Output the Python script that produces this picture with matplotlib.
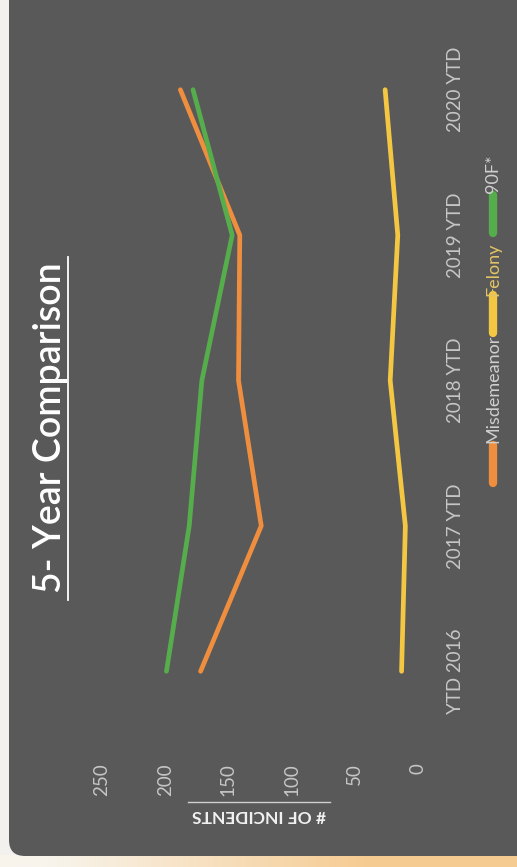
import matplotlib
matplotlib.use("Agg")
import matplotlib.pyplot as plt
from matplotlib.patches import FancyBboxPatch
import numpy as np

plt.rcParams['font.family'] = ['Lato', 'DejaVu Sans']

# incidents per year-to-date period
categories = ['YTD 2016', '2017 YTD', '2018 YTD', '2019 YTD', '2020 YTD']
misdemeanor = [172, 124, 142, 141, 188]
felony = [13, 10, 22, 16, 26]
f90 = [199, 181, 171, 147, 178]
value_ticks = [0, 50, 100, 150, 200, 250]

series = [
    ('Misdemeanor', misdemeanor, '#ef8e3e', '#cfcfcf'),
    ('Felony', felony, '#f4c743', '#e3c466'),
    ('90F*', f90, '#55ad4c', '#cfcfcf'),
]

W, H = 517, 867
fig = plt.figure(figsize=(W / 100, H / 100), dpi=100, facecolor='#f3f1ed')

# backdrop axes in pixel units: slide panel, strip at the bottom, title, legend
bg = fig.add_axes([0, 0, 1, 1])
bg.set_xlim(0, W)
bg.set_ylim(H, 0)
bg.axis('off')

grad = np.linspace(0, 1, 256)
c0 = np.array([248, 244, 236]) / 255
c1 = np.array([246, 203, 145]) / 255
strip = c0[None, :] + (c1 - c0)[None, :] * np.clip(grad * 1.6 - 0.15, 0, 1)[:, None]
bg.imshow(strip[None, :, :], extent=(0, W, H, 855), aspect='auto', zorder=0)

panel = FancyBboxPatch((9, -30), W + 30, 886, boxstyle='round,pad=0,rounding_size=16',
                       facecolor='#5a5959', edgecolor='none', zorder=1)
bg.add_patch(panel)

bg.text(51, 428, '5- Year Comparison', rotation=90, ha='center', va='center',
        color='white', fontsize=27, fontweight='semibold', zorder=3)
bg.plot([68, 68], [257, 600], color='white', lw=1.3, zorder=3)

bg.text(259, 815, '# OF INCIDENTS', rotation=180, ha='center', va='center',
        color='#f2f2f2', fontsize=12.5, fontweight='bold', zorder=3)
bg.plot([188, 330], [802, 802], color='#d0d0d0', lw=1, zorder=3)

# legend laid out along the right edge
legend_pos = [(483, 443), (333, 296), (233, 193)]
for (name, _, color, tcolor), (y0, y1) in zip(series, legend_pos):
    bg.plot([493, 493], [y0, y0 - 38], color=color, lw=6, solid_capstyle='round', zorder=3)
    bg.text(493, y1, name, rotation=90, ha='center', va='bottom',
            color=tcolor, fontsize=13, zorder=3)

# main chart, value axis runs right-to-left, periods bottom-to-top
ax = fig.add_axes([102 / W, 1 - 744 / H, 316 / W, 727 / H])
ax.set_facecolor('none')
y = np.arange(len(categories))
for name, vals, color, _ in series:
    ax.plot(vals, y, color=color, lw=3.4, solid_capstyle='round', label=name)

ax.set_xlim(250, 0)
ax.set_ylim(-0.5, len(categories) - 0.5)
ax.set_xticks(value_ticks)
ax.set_xticklabels([str(v) for v in value_ticks], rotation=90)
ax.set_yticks(y)
ax.set_yticklabels(categories, rotation=90, va='center')
ax.yaxis.tick_right()
ax.tick_params(axis='x', length=0, pad=14, labelsize=13.5, labelcolor='#c6c6c6')
ax.tick_params(axis='y', length=0, pad=21, labelsize=13.5, labelcolor='#c6c6c6')
for s in ax.spines.values():
    s.set_visible(False)

fig.savefig('out.png', dpi=100, facecolor=fig.get_facecolor())
